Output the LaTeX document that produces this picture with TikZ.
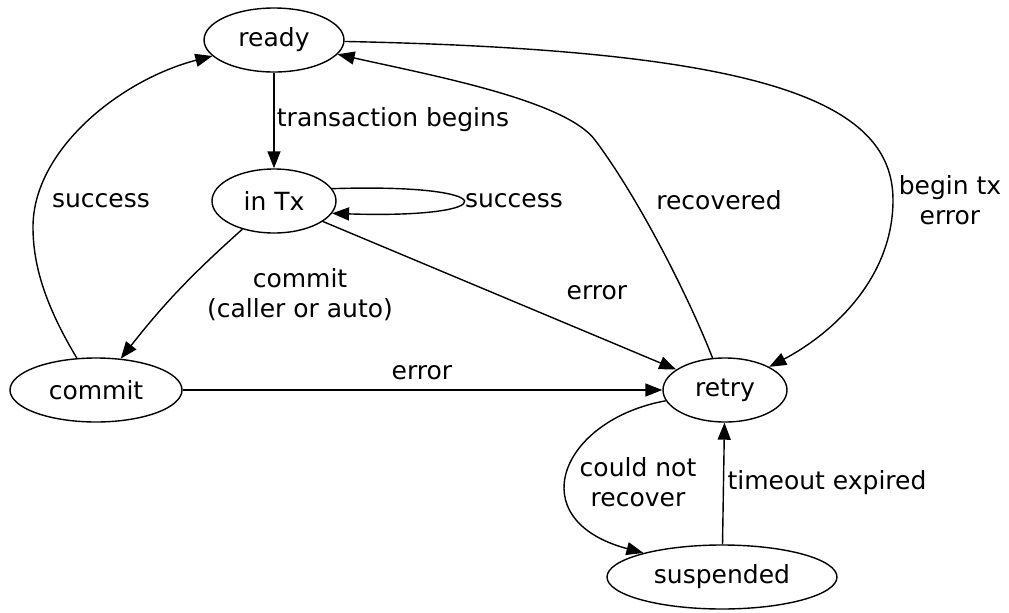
\documentclass[tikz,border=0pt]{standalone}
\usepackage{fontspec}
\setmainfont{DejaVu Sans}
\usetikzlibrary{shapes.geometric,arrows.meta}

\begin{document}
\begin{tikzpicture}[x=0.5pt, y=-0.5pt, line width=0.7pt,
    font=\fontsize{12.5}{15}\selectfont,
    state/.style={ellipse, draw, inner sep=0pt, minimum height=32pt},
    lbl/.style={inner sep=0pt, align=center},
    >={Triangle[length=8.5pt,width=6.5pt]}]
    \useasboundingbox (0,0) rectangle (1009,612);
    % states
    \node[state, minimum width=70pt] (ready) at (274,40) {ready};
    \node[state, minimum width=62pt] (intx) at (274,201) {in Tx};
    \node[state, minimum width=86pt] (commit) at (96,390) {commit};
    \node[state, minimum width=62pt] (retry) at (725,390) {retry};
    \node[state, minimum width=115pt] (suspended) at (722,577) {suspended};
    % edge labels
    \node[lbl] (lbegins) at (393,120) {transaction begins};
    \node[lbl] (lloop) at (514,201) {success};
    \node[lbl] (lcommit) at (300,295) {commit\\(caller or auto)};
    \node[lbl] (lerrtx) at (597,293) {error};
    \node[lbl] (lerrcommit) at (422,373) {error};
    \node[lbl] (lsuccess) at (101,201) {success};
    \node[lbl] (lrecovered) at (719,200) {recovered};
    \node[lbl] (lbegintx) at (950,200) {begin tx\\error};
    \node[lbl] (lcouldnot) at (638,482) {could not\\recover};
    \node[lbl] (ltimeout) at (827,483) {timeout expired};
    % transitions
    \draw[->] (ready) -- (intx);
    \draw[->] (intx.12) .. controls (506,183) and (506,219) .. (intx.-12);
    \draw[->] (intx) to[bend right=5] (commit);
    \draw[->] (intx) -- (retry);
    \draw[->] (commit) -- (retry);
    \draw[->] (commit) .. controls (45,305) and (33,265) .. (33,227)
        .. controls (33,150) and (120,80) .. (ready);
    \draw[->] (retry) .. controls (690,300) and (640,200) .. (595,140)
        .. controls (565,100) and (430,75) .. (ready);
    \draw[->] (ready) .. controls (760,50) and (893,100) .. (893,200)
        .. controls (893,280) and (830,335) .. (retry);
    \draw[->] (retry) .. controls (560,420) and (520,520) .. (suspended.163);
    \draw[->] (suspended) -- (retry);
\end{tikzpicture}
\end{document}
